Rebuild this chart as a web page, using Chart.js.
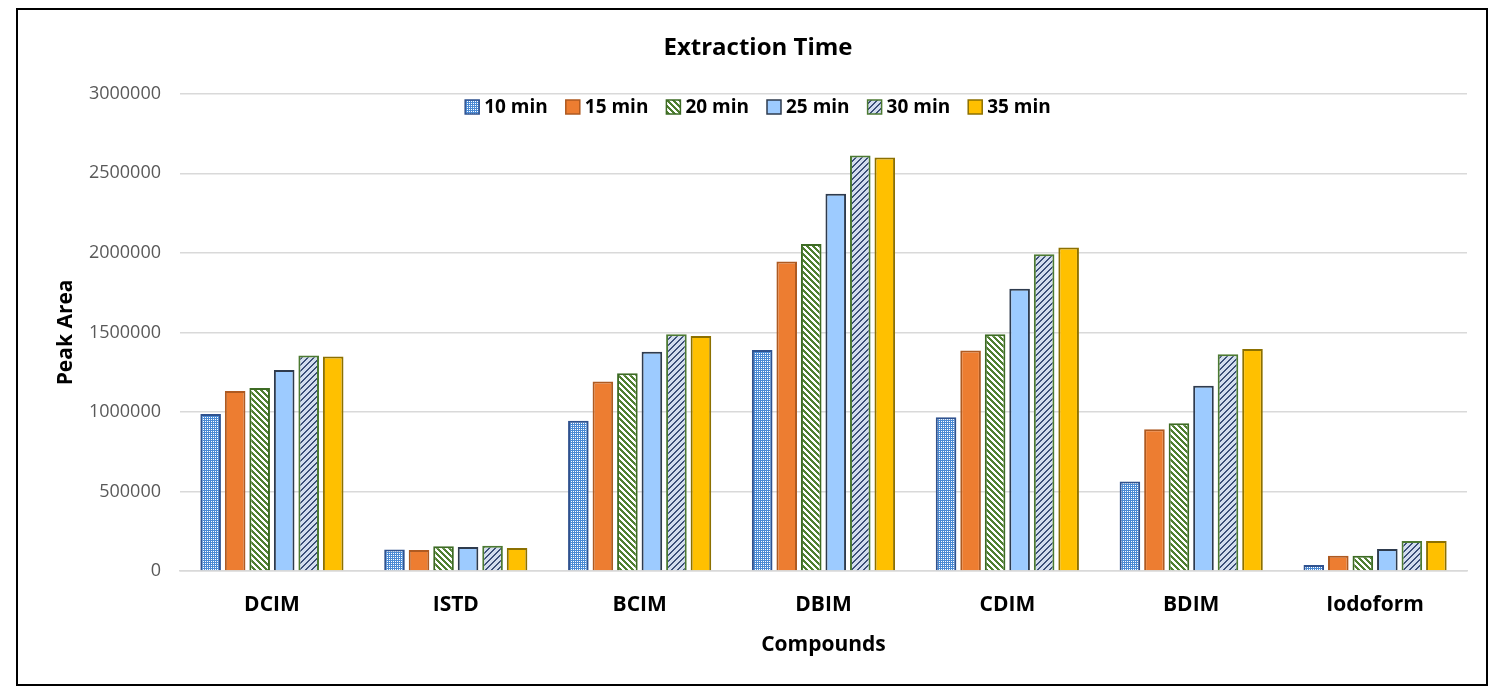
<!DOCTYPE html>
<html>
<head>
<meta charset="utf-8">
<script src="https://cdn.jsdelivr.net/npm/chart.js@4/dist/chart.umd.min.js"></script>
<style>
  html, body { margin: 0; padding: 0; background: #fff; }
  #frame {
    position: absolute; left: 16px; top: 8px;
    width: 1468px; height: 674px;
    border: 2px solid #000;
  }
</style>
</head>
<body>
<div id="frame"><canvas id="myChart" width="1468" height="674"></canvas></div>
<script>
const compounds = ['DCIM', 'ISTD', 'BCIM', 'DBIM', 'CDIM', 'BDIM', 'Iodoform'];
const seriesNames = ['10 min', '15 min', '20 min', '25 min', '30 min', '35 min'];

const min10 = [987000, 135000, 945000, 1390000, 967000, 562000, 38000];
const min15 = [1132000, 132000, 1191000, 1945000, 1386000, 891000, 96000];
const min20 = [1151000, 155000, 1243000, 2055000, 1489000, 929000, 96000];
const min25 = [1264000, 151000, 1379000, 2371000, 1774000, 1164000, 138000];
const min30 = [1354000, 159000, 1489000, 2612000, 1992000, 1363000, 189000];
const min35 = [1348000, 145000, 1478000, 2600000, 2033000, 1396000, 189000];

const yTicks = [0, 500000, 1000000, 1500000, 2000000, 2500000, 3000000];

// small pixel tiles used as bar fills
function makePattern(size, fn) {
  const c = document.createElement('canvas');
  c.width = size; c.height = size;
  const g = c.getContext('2d');
  for (let x = 0; x < size; x++) {
    for (let y = 0; y < size; y++) {
      g.fillStyle = fn(x, y);
      g.fillRect(x, y, 1, 1);
    }
  }
  return g.createPattern(c, 'repeat');
}

const dotsBlue = makePattern(4, (x, y) => (x % 2 === 1 && y % 2 === 1) ? '#ffffff' : '#4a8ad4');
const stripesGreen = makePattern(6, (x, y) => ((x - y + 6) % 6 < 3) ? '#4f7f31' : '#ffffff');
const stripesNavy = makePattern(6, (x, y) => ((x + y) % 6 < 2) ? '#3c4f78' : '#d3ddef');

const fills = [dotsBlue, '#ed7d31', stripesGreen, '#9dcbff', stripesNavy, '#ffc000'];
const borders = ['#2f528f', '#ae5a21', '#3d6b24', '#2e3b4e', '#4c7a32', '#8c7000'];
const values = [min10, min15, min20, min25, min30, min35];

// one-row legend drawn inside the plot, just under the top gridline
const innerLegend = {
  id: 'innerLegend',
  afterDraw(chart) {
    const g = chart.ctx;
    const box = 14, gap = 5, spacing = 18;
    g.save();
    g.font = 'bold 19px "Open Sans"';
    g.textBaseline = 'middle';
    const items = chart.data.datasets.map(ds => ({ ds, w: g.measureText(ds.label).width }));
    const total = items.reduce((s, it) => s + box + gap + it.w, 0) + spacing * (items.length - 1);
    let x = chart.width / 2 - total / 2 + 6;
    const y = 97;
    items.forEach(it => {
      g.fillStyle = it.ds.backgroundColor;
      g.fillRect(x, y - box / 2, box, box);
      g.strokeStyle = it.ds.borderColor;
      g.lineWidth = 1.5;
      g.strokeRect(x, y - box / 2, box, box);
      g.fillStyle = '#000';
      g.fillText(it.ds.label, x + box + gap, y + 1);
      x += box + gap + it.w + spacing;
    });
    g.restore();
  }
};

const ctx = document.getElementById('myChart').getContext('2d');
const myChart = new Chart(ctx, {
  type: 'bar',
  data: {
    labels: compounds,
    datasets: seriesNames.map((name, i) => ({
      label: name,
      data: values[i],
      backgroundColor: fills[i],
      borderColor: borders[i],
      borderWidth: 2,
      categoryPercentage: 0.8,
      barPercentage: 0.84
    }))
  },
  plugins: [innerLegend],
  options: {
    responsive: false,
    animation: false,
    layout: { padding: { left: 31, right: 19, top: 0, bottom: 24 } },
    plugins: {
      title: {
        display: true,
        text: 'Extraction Time',
        color: '#000',
        font: { family: 'Open Sans', size: 24, weight: 'bold' },
        padding: { top: 24, bottom: 31 }
      },
      legend: { display: false },
      tooltip: { enabled: false }
    },
    scales: {
      x: {
        afterFit: axis => { axis.height = 89; },
        grid: { display: false, drawTicks: false },
        border: { display: true, color: '#d9d9d9', width: 1.5 },
        ticks: {
          padding: 21,
          color: '#000',
          font: { family: 'Open Sans', size: 21, weight: 'bold' }
        },
        title: {
          display: true,
          text: 'Compounds',
          color: '#000',
          font: { family: 'Open Sans', size: 21, weight: 'bold' },
          padding: { top: 16, bottom: 2 }
        }
      },
      y: {
        min: 0,
        max: 3000000,
        afterBuildTicks: axis => { axis.ticks = yTicks.map(v => ({ value: v })); },
        afterFit: axis => { axis.width = 131; },
        grid: { color: '#d9d9d9', lineWidth: 1.5, drawTicks: false },
        border: { display: false },
        ticks: {
          padding: 19,
          color: '#595959',
          font: { family: 'Open Sans', size: 18 },
          callback: v => String(v)
        },
        title: {
          display: true,
          text: 'Peak Area',
          color: '#000',
          font: { family: 'Open Sans', size: 21, weight: 'bold' },
          padding: { top: 4, bottom: 4 }
        }
      }
    }
  }
});
</script>
</body>
</html>
